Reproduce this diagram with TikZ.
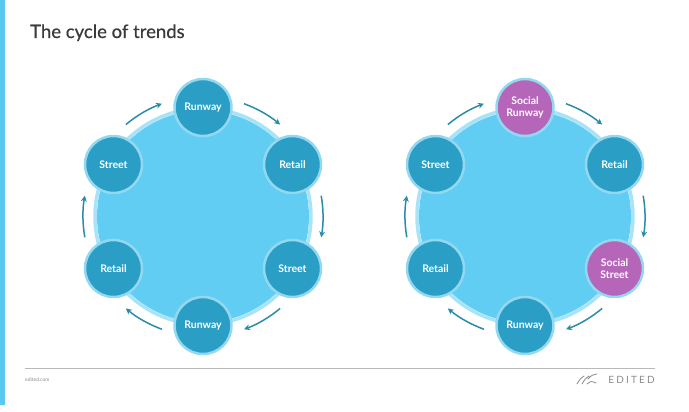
\documentclass[tikz,border=0pt]{standalone}
\usepackage{fontspec}
\setmainfont{Lato}
\usepackage{xcolor}
\usetikzlibrary{positioning,calc}
\usetikzlibrary{arrows.meta}

\definecolor{barblue}{HTML}{5BC8EE}
\definecolor{bigblue}{HTML}{62CDF2}
\definecolor{ringblue}{HTML}{A9E3F7}
\definecolor{nodeblue}{HTML}{2A9EC5}
\definecolor{nodering}{HTML}{92D8F1}
\definecolor{socialpurple}{HTML}{B566B9}
\definecolor{arrowteal}{HTML}{2A8CA8}
\definecolor{titlegray}{HTML}{3A3A3A}
\definecolor{footgray}{HTML}{8A8A8A}

\tikzset{
  trend/.style={circle, fill=nodeblue, draw=nodering, line width=2.5pt, minimum size=57pt, inner sep=0pt,
    text=white, font=\bfseries\fontsize{10.5}{11.5}\selectfont, align=center},
  social/.style={trend, fill=socialpurple},
  cyc/.style={arrowteal, line width=1.5pt, -{Stealth[length=6pt,width=6pt]}}
}

\begin{document}
\begin{tikzpicture}[x=1pt,y=1pt]
        \useasboundingbox (0,0) rectangle (689,412);
        \fill[barblue] (0,7) rectangle (5,412);

        \node[anchor=base west, inner sep=0pt, text=titlegray, font=\fontsize{18.5}{22}\selectfont\addfontfeature{FakeBold=0.6}] (title) at (30,374) {The cycle of trends};

        % two cycles
        \coordinate (lc) at (203,195.5);
        \coordinate (rc) at (525,195.5);

        \foreach \c in {lc,rc}{
            \fill[bigblue] (\c) circle[radius=106];
            \draw[ringblue, line width=3.5pt] (\c) circle[radius=108];
            \foreach \a/\n in {130/1,70/2,10/3,-50/4,-110/5,-170/6}{
                \coordinate (\c s\n) at ($(\c)+(\a:120)$);
                \draw[cyc] (\c s\n) arc[start angle=\a, end angle=\a-20, radius=120];
            }
        }

        \node[trend] (lrun) at ($(lc)+(0,109)$) {Runway};
        \node[trend] (lret) at ($(lc)+(89.5,52)$) {Retail};
        \node[trend] (lstr) at ($(lc)+(89.5,-52)$) {Street};
        \node[trend] (lrunb) at ($(lc)+(0,-109)$) {Runway};
        \node[trend] (lretb) at ($(lc)+(-89.5,-52)$) {Retail};
        \node[trend] (lstrb) at ($(lc)+(-89.5,52)$) {Street};

        \node[social] (rrun) at ($(rc)+(0,109)$) {Social\\Runway};
        \node[trend] (rret) at ($(rc)+(89.5,52)$) {Retail};
        \node[social] (rstr) at ($(rc)+(89.5,-52)$) {Social\\Street};
        \node[trend] (rrunb) at ($(rc)+(0,-109)$) {Runway};
        \node[trend] (rretb) at ($(rc)+(-89.5,-52)$) {Retail};
        \node[trend] (rstrb) at ($(rc)+(-89.5,52)$) {Street};

        % footer
        \coordinate (fl) at (25,44);
        \coordinate (fr) at (655,44);
        \draw[footgray!60, line width=0.6pt] (fl) -- (fr);
        \node[anchor=west, text=footgray, font=\fontsize{5}{6}\selectfont, inner sep=0pt] (site) at (25,32) {edited.com};
        \node[anchor=east, text=footgray, font=\fontsize{10}{12}\selectfont\addfontfeature{LetterSpace=22}, inner sep=0pt] (brand) at (655,32) {EDITED};
        \draw[footgray, line width=0.8pt, line cap=round]
            (577,28) .. controls (580,33) .. (584,36)
            (582,28) .. controls (585,33) .. (589,36)
            (587,28) .. controls (591,31) .. (596,29)
            (588,33) .. controls (592,37) .. (597,38);
    \end{tikzpicture}
\end{document}
